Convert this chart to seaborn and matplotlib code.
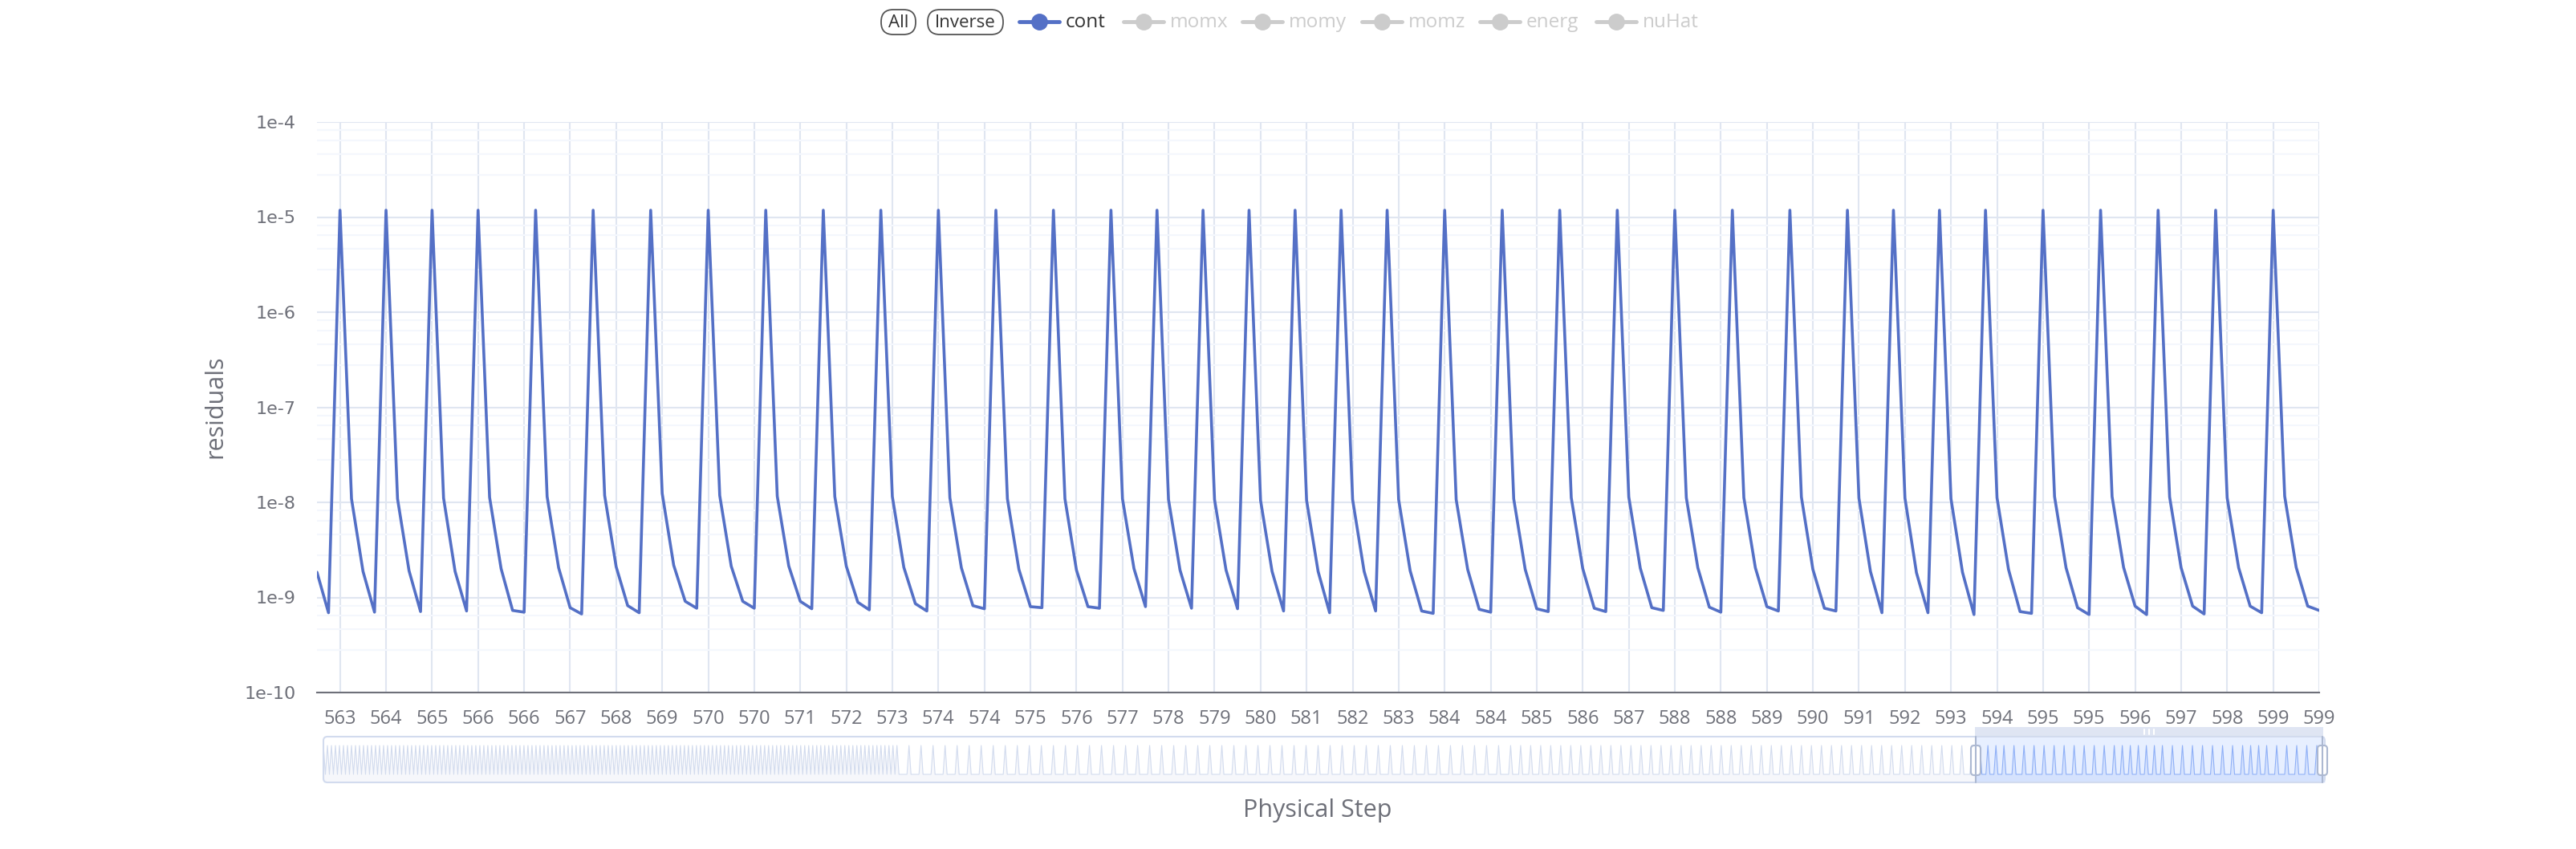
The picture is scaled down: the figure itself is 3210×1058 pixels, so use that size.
import numpy as np
import pandas as pd
import matplotlib
matplotlib.use('Agg')
import matplotlib.pyplot as plt
import seaborn as sns
from matplotlib.patches import FancyBboxPatch, Rectangle
from matplotlib.ticker import FixedLocator, FuncFormatter, NullFormatter

# physical step of each group of pseudo-iterations in the zoomed window
physical_steps = list(range(562, 600))

# cont residual of every pseudo-iteration, one list per physical step
cont_residuals = [
    [1.84e-9, 0.69e-9],                                  # 562 (tail only)
    [1.18e-5, 1.09e-8, 1.88e-9, 0.70e-9],                # 563
    [1.18e-5, 1.09e-8, 1.91e-9, 0.71e-9],                # 564
    [1.18e-5, 1.11e-8, 1.88e-9, 0.72e-9],                # 565
    [1.18e-5, 1.13e-8, 2.01e-9, 0.73e-9, 0.70e-9],       # 566
    [1.18e-5, 1.15e-8, 2.05e-9, 0.78e-9, 0.67e-9],       # 567
    [1.18e-5, 1.18e-8, 2.10e-9, 0.82e-9, 0.69e-9],       # 568
    [1.18e-5, 1.24e-8, 2.18e-9, 0.91e-9, 0.77e-9],       # 569
    [1.18e-5, 1.18e-8, 2.13e-9, 0.91e-9, 0.77e-9],       # 570
    [1.18e-5, 1.16e-8, 2.14e-9, 0.91e-9, 0.76e-9],       # 571
    [1.18e-5, 1.15e-8, 2.13e-9, 0.89e-9, 0.74e-9],       # 572
    [1.18e-5, 1.15e-8, 2.07e-9, 0.86e-9, 0.72e-9],       # 573
    [1.18e-5, 1.12e-8, 2.05e-9, 0.82e-9, 0.76e-9],       # 574
    [1.18e-5, 1.09e-8, 1.97e-9, 0.80e-9, 0.78e-9],       # 575
    [1.18e-5, 1.09e-8, 1.94e-9, 0.80e-9, 0.77e-9],       # 576
    [1.18e-5, 1.09e-8, 2.01e-9, 0.80e-9],                # 577
    [1.18e-5, 1.07e-8, 1.94e-9, 0.77e-9],                # 578
    [1.18e-5, 1.07e-8, 1.94e-9, 0.76e-9],                # 579
    [1.18e-5, 1.05e-8, 1.88e-9, 0.72e-9],                # 580
    [1.18e-5, 1.05e-8, 1.88e-9, 0.69e-9],                # 581
    [1.18e-5, 1.07e-8, 1.88e-9, 0.72e-9],                # 582
    [1.18e-5, 1.07e-8, 1.91e-9, 0.72e-9, 0.68e-9],       # 583
    [1.18e-5, 1.07e-8, 1.97e-9, 0.75e-9, 0.70e-9],       # 584
    [1.18e-5, 1.09e-8, 1.97e-9, 0.76e-9, 0.71e-9],       # 585
    [1.18e-5, 1.12e-8, 2.01e-9, 0.77e-9, 0.71e-9],       # 586
    [1.18e-5, 1.14e-8, 2.03e-9, 0.78e-9, 0.73e-9],       # 587
    [1.18e-5, 1.12e-8, 2.05e-9, 0.79e-9, 0.70e-9],       # 588
    [1.18e-5, 1.12e-8, 2.05e-9, 0.80e-9, 0.72e-9],       # 589
    [1.18e-5, 1.14e-8, 1.97e-9, 0.77e-9, 0.72e-9],       # 590
    [1.18e-5, 1.11e-8, 1.88e-9, 0.69e-9],                # 591
    [1.18e-5, 1.11e-8, 1.82e-9, 0.69e-9],                # 592
    [1.18e-5, 1.09e-8, 1.84e-9, 0.66e-9],                # 593
    [1.18e-5, 1.12e-8, 1.97e-9, 0.71e-9, 0.68e-9],       # 594
    [1.18e-5, 1.15e-8, 2.05e-9, 0.78e-9, 0.66e-9],       # 595
    [1.18e-5, 1.15e-8, 2.07e-9, 0.81e-9, 0.66e-9],       # 596
    [1.18e-5, 1.14e-8, 2.05e-9, 0.81e-9, 0.67e-9],       # 597
    [1.18e-5, 1.12e-8, 2.05e-9, 0.81e-9, 0.69e-9],       # 598
    [1.18e-5, 1.16e-8, 2.07e-9, 0.81e-9, 0.73e-9],       # 599
]

# earlier history, only seen in the zoom slider: (number of steps, iterations per step)
history_cycles = [(143, 2), (51, 6), (46, 5)]
history_tail = [1.18e-5, 1.10e-8]   # start of step 562, left of the window

legend_names = ['cont', 'momx', 'momy', 'momz', 'energ', 'nuHat']

# ---------------------------------------------------------------
steps, values = [], []
for s, vals in zip(physical_steps, cont_residuals):
    steps += [s] * len(vals)
    values += vals
df = pd.DataFrame({'idx': np.arange(len(values)), 'step': steps, 'cont': values})
n = len(df)

hist = []
for count, length in history_cycles:
    for _ in range(count):
        hist += [1.18e-5] + [1.0e-9] * (length - 1)
hist += history_tail
overview = np.array(hist + values)
sel0 = len(hist)

W, H = 3210, 1058
def fx(px):
    return px / W
def fy(py):
    return 1 - py / H

sns.set_style('white')
plt.rcParams['font.family'] = ['Open Sans', 'DejaVu Sans']

grey = '#6e7079'
blue = '#5470c6'

fig = plt.figure(figsize=(W / 100, H / 100), dpi=100)
ax = fig.add_axes([fx(395), fy(863), fx(2890) - fx(395), (863 - 152) / H])

sns.lineplot(data=df, x='idx', y='cont', ax=ax, color=blue, linewidth=2.6)
ax.set_yscale('log')
ax.set_ylim(1e-10, 1e-4)
ax.set_xlim(0, n - 1)

ax.yaxis.set_major_locator(FixedLocator([10.0 ** k for k in range(-10, -3)]))
ax.yaxis.set_major_formatter(FuncFormatter(lambda v, _: '1e%d' % round(np.log10(v))))
ax.yaxis.set_minor_locator(FixedLocator([m * 10.0 ** k for k in range(-10, -4)
                                         for m in (2.8, 4.6, 6.4, 8.2)]))
ax.yaxis.set_minor_formatter(NullFormatter())

tick_idx = list(range(2, n, 4))
ax.set_xticks(tick_idx)
ax.set_xticklabels([str(df['step'][i]) for i in tick_idx])

ax.tick_params(axis='y', which='major', length=9, width=1.5, color=grey,
               labelcolor=grey, labelsize=16, pad=10)
ax.tick_params(axis='y', which='minor', length=5, width=1.5, color=grey)
ax.tick_params(axis='x', which='major', length=9, width=1.5, color=grey,
               labelcolor=grey, labelsize=17, pad=6)
for lab in ax.get_yticklabels():
    lab.set_family('DejaVu Sans')

ax.grid(which='major', axis='both', color='#e0e6f1', linewidth=1.5)
ax.grid(which='minor', axis='y', color='#f4f7fd', linewidth=1.5)
ax.set_axisbelow(True)
for side in ['top', 'right', 'left']:
    ax.spines[side].set_visible(False)
ax.spines['bottom'].set_color(grey)
ax.spines['bottom'].set_linewidth(1.5)
ax.set_xlabel('')
ax.set_ylabel('')

# ---- zoom slider data shadow ----
base_py, peak_py, top_py, bot_py = 965, 929, 918, 975
peak = overview.max()
lo = -(bot_py - base_py) / (base_py - peak_py) * peak
hi = peak + (peak_py - top_py) / (base_py - peak_py) * peak
ov = fig.add_axes([fx(403), fy(bot_py), fx(2897) - fx(403), (bot_py - top_py) / H])
xs = np.arange(len(overview))
ov.fill_between(xs[:sel0 + 1], overview[:sel0 + 1], lo, color='#d2dbee', alpha=0.2, lw=0)
ov.plot(xs[:sel0 + 1], overview[:sel0 + 1], color='#d2dbee', lw=0.8)
ov.add_patch(Rectangle((sel0, lo), len(overview) - 1 - sel0, hi - lo,
                       color=(135 / 255, 175 / 255, 1.0, 0.2), lw=0))
ov.fill_between(xs[sel0:], overview[sel0:], lo, color='#8fb0f7', alpha=0.2, lw=0)
ov.plot(xs[sel0:], overview[sel0:], color='#8fb0f7', lw=0.8)
ov.set_xlim(0, len(overview) - 1)
ov.set_ylim(lo, hi)
ov.axis('off')

# ---- overlay in pixel coordinates for legend, names and slider frame ----
deco = fig.add_axes([0, 0, 1, 1])
deco.set_xlim(0, W)
deco.set_ylim(H, 0)
deco.axis('off')

deco.text(268, 507, 'residuals', rotation=90, ha='center', va='center',
          fontsize=22, color=grey)
deco.text(1642, 1010, 'Physical Step', ha='center', va='center',
          fontsize=22, color=grey)

for x0, x1, label in [(1098, 1141, 'All'), (1156, 1250, 'Inverse')]:
    deco.add_patch(FancyBboxPatch((x0, 12), x1 - x0, 31,
                                  boxstyle='round,pad=0,rounding_size=15',
                                  fill=False, edgecolor='#555555', linewidth=1.3))
    deco.text((x0 + x1) / 2, 28, label, ha='center', va='center',
              fontsize=16, color='#333333')

marker_x = [1295, 1425, 1573, 1722, 1869, 2014]
for i, (name, mx) in enumerate(zip(legend_names, marker_x)):
    c = blue if i == 0 else '#cccccc'
    tc = '#333333' if i == 0 else '#cccccc'
    deco.plot([mx - 25, mx + 25], [27, 27], color=c, linewidth=3.5)
    deco.plot([mx], [27], marker='o', markersize=14, color=c)
    deco.text(mx + 33, 28, name, ha='left', va='center', fontsize=17.5, color=tc)

deco.add_patch(FancyBboxPatch((403, top_py), 2897 - 403, bot_py - top_py,
                              boxstyle='round,pad=0,rounding_size=5',
                              fill=False, edgecolor='#d2dbee', linewidth=1.5))
# move bar above the selected window
deco.add_patch(Rectangle((2461, 906), 2895 - 2461, top_py - 906,
                         color='#d2dbee', alpha=0.7, lw=0))
for dx in (-6, 0, 6):
    deco.plot([2678 + dx] * 2, [909, 915], color='white', linewidth=1.5)
for hx in (2462, 2894):
    deco.plot([hx] * 2, [top_py, bot_py], color='#acb8d1', linewidth=1.5)
    deco.add_patch(FancyBboxPatch((hx - 6, 929), 12, 37,
                                  boxstyle='round,pad=0,rounding_size=4',
                                  facecolor='white', edgecolor='#acb8d1', linewidth=1.5))
deco.set_xlim(0, W)
deco.set_ylim(H, 0)

fig.savefig('out.png', dpi=100)
